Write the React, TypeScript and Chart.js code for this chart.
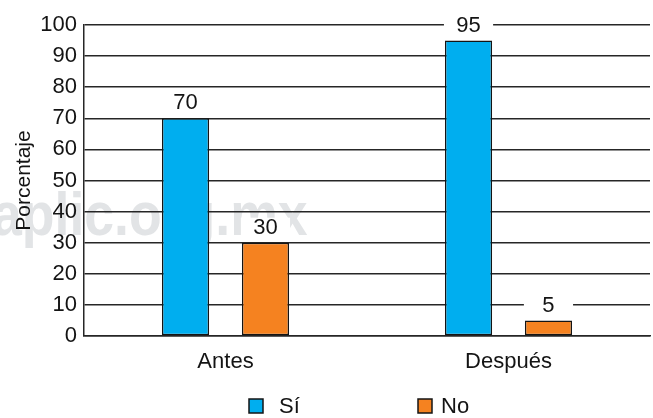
import { useEffect, useRef } from "react";
import { Chart, registerables } from "chart.js";

Chart.register(...registerables);

// Survey results before and after, in percent
const categories = ["Antes", "Después"];
const seriesNames = ["Sí", "No"];
const siValues = [70, 95];
const noValues = [30, 5];
const yAxisTitle = "Porcentaje";
const watermarkText = "aplic.org.mx";

const SI_COLOR = "#00AEEF";
const NO_COLOR = "#F58220";
const INK = "#141414";
const LINE = "#262626";
const FAMILY = "'Liberation Sans', Arial, Helvetica, sans-serif";
const FONT_SIZE = 22;

// Large faint site mark painted behind everything
const watermarkPlugin = {
  id: "watermark",
  beforeDraw(chart: any) {
    const ctx = chart.ctx;
    ctx.save();
    ctx.fillStyle = "#e2e4e6";
    ctx.font = `bold 62px ${FAMILY}`;
    ctx.textBaseline = "alphabetic";
    ctx.textAlign = "left";
    ctx.translate(-8, 235);
    ctx.scale(0.864, 1);
    ctx.fillText(watermarkText, 0, 0);
    ctx.restore();
  },
};

// Value above each bar on a white patch that interrupts the grid lines
const valueLabelPlugin = {
  id: "valueLabels",
  afterDatasetsDraw(chart: any) {
    const ctx = chart.ctx;
    chart.data.datasets.forEach((ds: any, i: number) => {
      const meta = chart.getDatasetMeta(i);
      meta.data.forEach((bar: any, j: number) => {
        const { x, y, width } = bar.getProps(["x", "y", "width"], true);
        ctx.save();
        ctx.fillStyle = "#ffffff";
        ctx.fillRect(x - width / 2 - 1, y - 25, width + 2, 23);
        ctx.fillStyle = INK;
        ctx.font = `${FONT_SIZE}px ${FAMILY}`;
        ctx.textAlign = "center";
        ctx.textBaseline = "middle";
        ctx.fillText(String(ds.data[j]), x, y - 15);
        ctx.restore();
      });
    });
  },
};

// Legend along the bottom edge
const legendPlugin = {
  id: "bottomLegend",
  afterDraw(chart: any) {
    const ctx = chart.ctx;
    const items = [
      { box: 249, text: 279 },
      { box: 418, text: 441 },
    ];
    const cy = 406;
    chart.data.datasets.forEach((ds: any, i: number) => {
      const pos = items[i];
      if (!pos) return;
      ctx.save();
      ctx.fillStyle = ds.backgroundColor;
      ctx.fillRect(pos.box, cy - 7, 14, 14);
      ctx.strokeStyle = INK;
      ctx.lineWidth = 1.5;
      ctx.strokeRect(pos.box, cy - 7, 14, 14);
      ctx.fillStyle = INK;
      ctx.font = `${FONT_SIZE}px ${FAMILY}`;
      ctx.textAlign = "left";
      ctx.textBaseline = "middle";
      ctx.fillText(ds.label, pos.text, cy + 1);
      ctx.restore();
    });
  },
};

export default function App() {
  const canvasRef = useRef<HTMLCanvasElement | null>(null);

  useEffect(() => {
    if (!canvasRef.current) return;
    const chart = new Chart(canvasRef.current, {
      type: "bar",
      data: {
        labels: categories,
        datasets: [
          {
            label: seriesNames[0],
            data: siValues,
            backgroundColor: SI_COLOR,
            borderColor: INK,
            borderWidth: 1.5,
            borderSkipped: false,
            categoryPercentage: 0.565,
            barPercentage: 0.59,
          },
          {
            label: seriesNames[1],
            data: noValues,
            backgroundColor: NO_COLOR,
            borderColor: INK,
            borderWidth: 1.5,
            borderSkipped: false,
            categoryPercentage: 0.565,
            barPercentage: 0.59,
          },
        ],
      },
      options: {
        responsive: false,
        animation: false,
        devicePixelRatio: 1,
        layout: { padding: { top: 25, right: 3, left: 0, bottom: 0 } },
        plugins: {
          legend: { display: false },
          tooltip: { enabled: false },
        },
        scales: {
          x: {
            grid: { display: false, drawTicks: false },
            border: { display: true, color: LINE, width: 1.5 },
            ticks: {
              color: INK,
              font: { family: FAMILY, size: FONT_SIZE },
              padding: 13,
            },
            afterFit: (scale: any) => {
              scale.height = 82;
            },
          },
          y: {
            min: 0,
            max: 100,
            ticks: {
              stepSize: 10,
              color: INK,
              font: { family: FAMILY, size: FONT_SIZE },
              padding: 7,
            },
            grid: { color: LINE, lineWidth: 1.5, drawTicks: false },
            border: { display: true, color: LINE, width: 1.5 },
            title: {
              display: true,
              text: yAxisTitle,
              color: INK,
              font: { family: FAMILY, size: 21 },
              padding: { top: 12, bottom: 0 },
            },
            afterFit: (scale: any) => {
              scale.width = 84;
            },
          },
        },
      },
      plugins: [watermarkPlugin, valueLabelPlugin, legendPlugin],
    });
    return () => chart.destroy();
  }, []);

  return (
    <div style={{ position: "fixed", left: 0, top: 0, width: 653, height: 418, background: "#fff" }}>
      <canvas ref={canvasRef} width={653} height={418} />
    </div>
  );
}
